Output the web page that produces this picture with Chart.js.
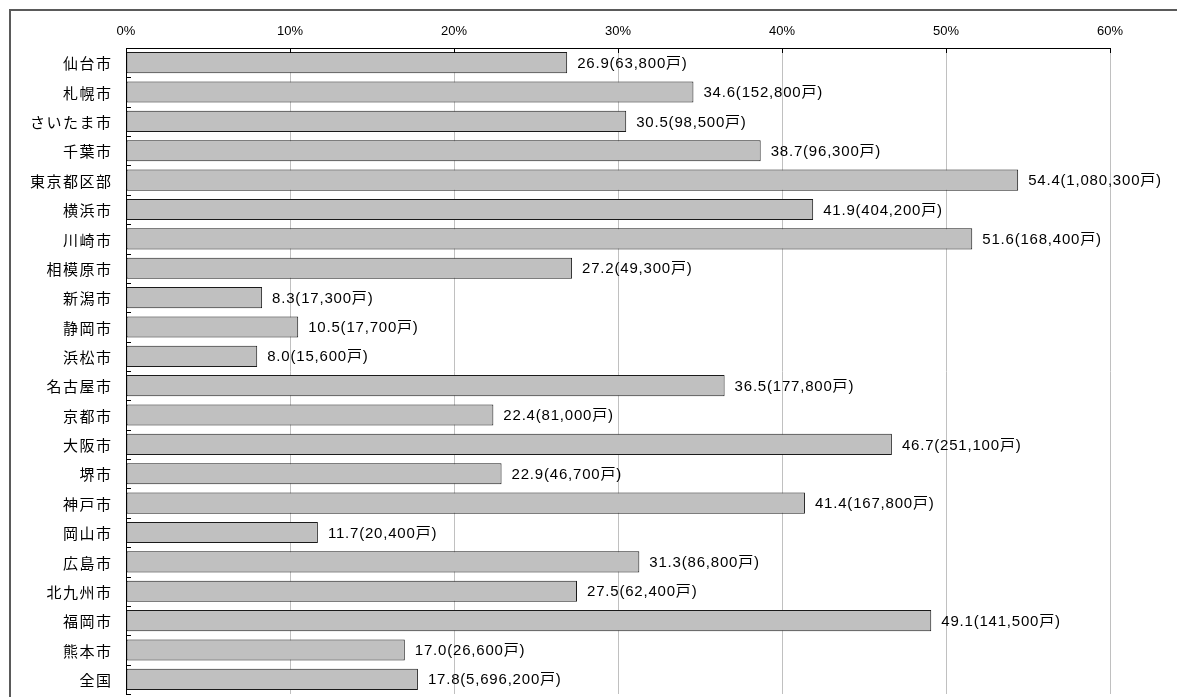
<!DOCTYPE html>
<html lang="ja">
<head>
<meta charset="utf-8">
<script src="https://cdn.jsdelivr.net/npm/chart.js@4/dist/chart.umd.min.js"></script>
<style>
  html, body { margin: 0; padding: 0; background: #ffffff; overflow: hidden; }
  #wrap { position: relative; width: 1177px; height: 697px; }
</style>
</head>
<body>
<div id="wrap"><canvas id="c" width="1177" height="697"></canvas></div>
<script>
// 都市名
const cities = [
  '仙台市', '札幌市', 'さいたま市', '千葉市', '東京都区部', '横浜市', '川崎市',
  '相模原市', '新潟市', '静岡市', '浜松市', '名古屋市', '京都市', '大阪市',
  '堺市', '神戸市', '岡山市', '広島市', '北九州市', '福岡市', '熊本市', '全国'
];
// 割合(%)
const rates = [
  26.9, 34.6, 30.5, 38.7, 54.4, 41.9, 51.6,
  27.2, 8.3, 10.5, 8.0, 36.5, 22.4, 46.7,
  22.9, 41.4, 11.7, 31.3, 27.5, 49.1, 17.0, 17.8
];
// 戸数
const units = [
  '63,800', '152,800', '98,500', '96,300', '1,080,300', '404,200', '168,400',
  '49,300', '17,300', '17,700', '15,600', '177,800', '81,000', '251,100',
  '46,700', '167,800', '20,400', '86,800', '62,400', '141,500', '26,600', '5,696,200'
];
// 目盛り
const xTicks = [0, 10, 20, 30, 40, 50, 60];

const JP = '"Noto Sans CJK JP", sans-serif';
const NUM = '"Liberation Sans", "Noto Sans CJK JP", sans-serif';

// 外枠
const framePlugin = {
  id: 'frame',
  beforeDraw(chart) {
    const ctx = chart.ctx;
    ctx.save();
    ctx.strokeStyle = '#5a5a5a';
    ctx.lineWidth = 2;
    ctx.beginPath();
    ctx.moveTo(10, 697);
    ctx.lineTo(10, 10);
    ctx.lineTo(1177, 10);
    ctx.stroke();
    ctx.restore();
  }
};

// 軸の内向き目盛り線と都市名
const axisPlugin = {
  id: 'axisMarks',
  afterDatasetsDraw(chart) {
    const ctx = chart.ctx;
    const xs = chart.scales.x, ys = chart.scales.y;
    const area = chart.chartArea;
    ctx.save();
    ctx.strokeStyle = '#000000';
    ctx.lineWidth = 1;
    ctx.beginPath();
    xs.ticks.forEach((t, i) => {
      const px = Math.round(xs.getPixelForTick(i)) + 0.5;
      ctx.moveTo(px, area.top);
      ctx.lineTo(px, area.top + 5);
    });
    const n = ys.ticks.length;
    const step = ys.getPixelForTick(1) - ys.getPixelForTick(0);
    for (let i = 0; i <= n; i++) {
      let py;
      if (i === n) py = ys.getPixelForTick(n - 1) + step / 2;
      else py = ys.getPixelForTick(i) - step / 2;
      py = Math.round(py) + 0.5;
      ctx.moveTo(area.left, py);
      ctx.lineTo(area.left + 5, py);
    }
    ctx.stroke();
    ctx.beginPath();
    ctx.moveTo(Math.round(area.left) + 0.5, area.top);
    ctx.lineTo(Math.round(area.left) + 0.5, area.bottom);
    ctx.stroke();

    // 都市名
    const sp = 1.5;
    ctx.font = '15px ' + JP;
    ctx.letterSpacing = sp + 'px';
    ctx.fillStyle = '#000000';
    ctx.textAlign = 'right';
    ctx.textBaseline = 'middle';
    cities.forEach((name, i) => {
      ctx.fillText(name, area.left - 15 + sp, ys.getPixelForTick(i) + 1);
    });
    ctx.restore();
  }
};

// 値ラベル
const valueLabelPlugin = {
  id: 'valueLabels',
  afterDatasetsDraw(chart) {
    const ctx = chart.ctx;
    const meta = chart.getDatasetMeta(0);
    ctx.save();
    ctx.font = '15px ' + NUM;
    ctx.letterSpacing = '0.8px';
    ctx.fillStyle = '#000000';
    ctx.textAlign = 'left';
    ctx.textBaseline = 'middle';
    meta.data.forEach((bar, i) => {
      const txt = rates[i].toFixed(1) + '(' + units[i] + '戸)';
      ctx.fillText(txt, bar.x + 10, bar.y + 1);
    });
    ctx.restore();
  }
};

new Chart(document.getElementById('c'), {
  type: 'bar',
  data: {
    labels: cities,
    datasets: [{
      data: rates,
      backgroundColor: '#c0c0c0',
      borderColor: '#1a1a1a',
      borderWidth: 1,
      borderSkipped: false,
      categoryPercentage: 1.0,
      barPercentage: 0.72
    }]
  },
  options: {
    indexAxis: 'y',
    responsive: false,
    animation: false,
    devicePixelRatio: 1,
    layout: { padding: { left: 12, top: 14, right: 67, bottom: 3 } },
    plugins: {
      legend: { display: false },
      tooltip: { enabled: false }
    },
    scales: {
      x: {
        position: 'top',
        min: 0,
        max: 60,
        afterBuildTicks(scale) {
          scale.ticks = xTicks.map(v => ({ value: v }));
        },
        afterFit(scale) {
          scale.height = 34;
          scale.paddingLeft = 0;
          scale.paddingRight = 0;
        },
        ticks: {
          callback: v => v + '%',
          color: '#000000',
          font: { family: NUM, size: 13 },
          padding: 9,
          maxRotation: 0
        },
        grid: {
          color: '#c0c0c0',
          lineWidth: 1,
          drawTicks: false
        },
        border: { color: '#000000', width: 1 }
      },
      y: {
        afterFit(scale) {
          scale.width = 114;
          scale.paddingTop = 0;
          scale.paddingBottom = 0;
        },
        ticks: { display: false },
        grid: { display: false, drawTicks: false },
        border: { display: false }
      }
    }
  },
  plugins: [framePlugin, axisPlugin, valueLabelPlugin]
});
</script>
</body>
</html>
